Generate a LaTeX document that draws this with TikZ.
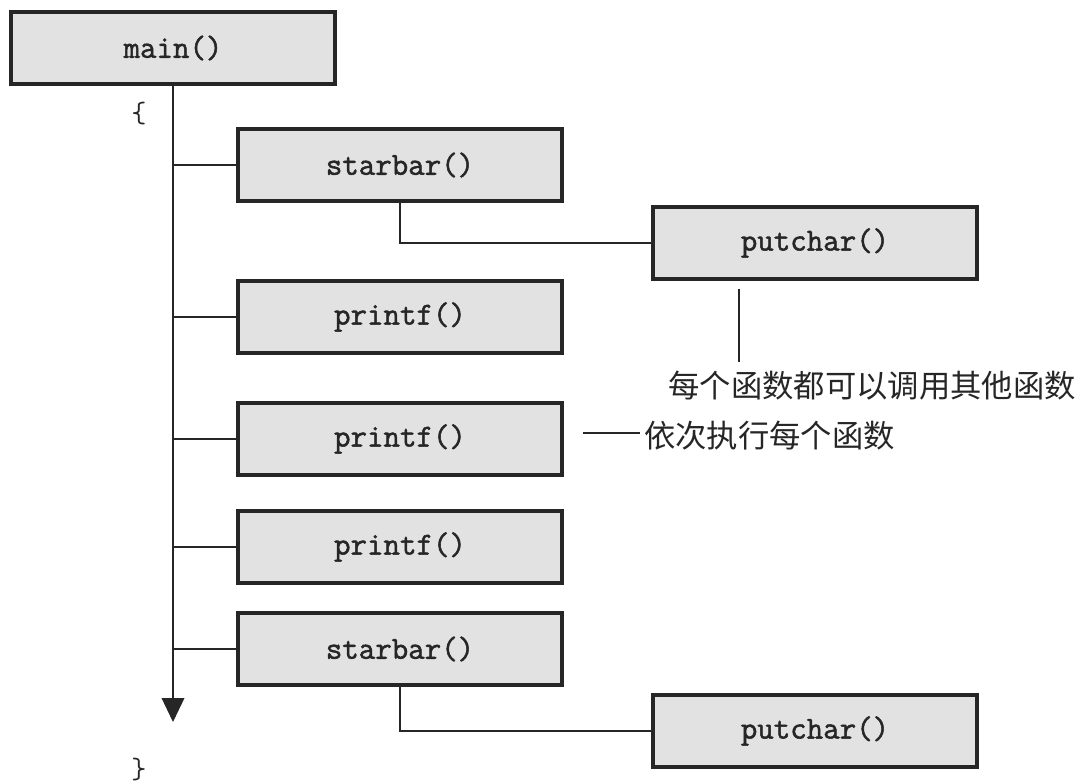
\documentclass[tikz,border=0pt]{standalone}
\usepackage{fontspec}
\newfontfamily\cjk{Noto Sans CJK SC}
\newfontfamily\monob[FakeBold=1.6]{Latin Modern Mono}
\usetikzlibrary{arrows.meta}
\definecolor{boxfill}{HTML}{E2E2E2}
\definecolor{ink}{HTML}{262626}
\tikzset{
  fn/.style={draw=ink, line width=2.5pt, fill=boxfill, rectangle,
    minimum width=243pt, minimum height=54pt, inner sep=0pt,
    font=\monob\fontsize{24}{26}\selectfont, text=ink},
  conn/.style={draw=ink, line width=1.1pt},
  lbl/.style={font=\cjk\fontsize{23.5}{25}\selectfont, text=ink, inner sep=0pt},
  brace/.style={font=\ttfamily\fontsize{22}{24}\selectfont, text=ink, inner sep=0pt}
}
\begin{document}
\begin{tikzpicture}[x=0.75pt,y=-0.75pt]
\useasboundingbox (0,0) rectangle (1086,784);
\node[fn] (main) at (173,48) {main()};
\node[fn] (sb1) at (400,165) {starbar()};
\node[fn] (pc1) at (815,243) {putchar()};
\node[fn] (pf1) at (400,317) {printf()};
\node[fn] (pf2) at (400,439) {printf()};
\node[fn] (pf3) at (400,547) {printf()};
\node[fn] (sb2) at (400,649) {starbar()};
\node[fn] (pc2) at (815,731) {putchar()};
\node[brace] (lb) at (139,114) {\{};
\node[brace] (rb) at (139,770) {\}};
\coordinate (aend) at (173,722);
\draw[conn, -{Triangle[width=17pt,length=18pt]}] (main.south) -- (aend);
\foreach \b in {sb1,pf1,pf2,pf3,sb2}
  \draw[conn] (\b.west -| main.south) -- (\b.west);
\draw[conn] (sb1.south) |- (pc1.west);
\draw[conn] (sb2.south) |- (pc2.west);
\coordinate (p1a) at (739,289);
\coordinate (p1b) at (739,362);
\draw[conn] (p1a) -- (p1b);
\node[lbl] (l1) at (872,386) {每个函数都可以调用其他函数};
\node[lbl, anchor=west] (l2) at (644,436) {依次执行每个函数};
\coordinate (p2a) at (583,433);
\draw[conn] (p2a) -- ([xshift=-3pt]p2a -| l2.west);
\end{tikzpicture}
\end{document}
